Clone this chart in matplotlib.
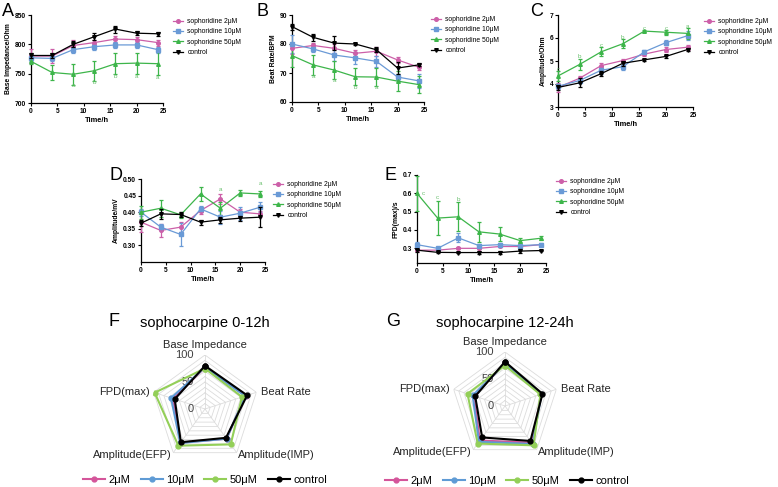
import matplotlib
matplotlib.use('Agg')
import matplotlib.pyplot as plt
from matplotlib.lines import Line2D
import numpy as np

plt.rcParams['font.family'] = ['Liberation Sans', 'DejaVu Sans']

W, H = 778, 487
fig = plt.figure(figsize=(W / 100, H / 100), dpi=100)

# ---------------- data ----------------
time = [0, 4, 8, 12, 16, 20, 24]
series_labels = ['sophoridine 2μM', 'sophoridine 10μM', 'sophoridine 50μM', 'control']

# A: Base impedance (Ohm)
bi_2 = [780, 780, 798, 803, 809, 808, 803]
bi_10 = [777, 776, 791, 796, 799, 799, 791]
bi_50 = [771, 752, 749, 755, 767, 768, 767]
bi_ctrl = [781, 781, 800, 813, 826, 819, 818]
bi_2_err = [12, 12, 10, 5, 5, 5, 5]
bi_10_err = [5, 5, 5, 5, 5, 5, 5]
bi_50_err = [5, 13, 18, 17, 18, 18, 20]
bi_ctrl_err = [5, 4, 5, 6, 6, 3, 3]

# B: Beat rate (BPM)
br_2 = [78.5, 79.5, 78.5, 76.8, 77.5, 74.5, 72.0]
br_10 = [80.0, 78.3, 76.2, 75.2, 74.0, 68.6, 67.3]
br_50 = [76.0, 72.8, 71.0, 68.7, 68.6, 67.2, 66.0]
br_ctrl = [86.0, 82.3, 80.3, 80.0, 78.0, 71.7, 72.8]
br_2_err = [2.0, 1.0, 1.5, 1.0, 1.5, 1.0, 1.0]
br_10_err = [3.0, 1.0, 2.0, 2.0, 2.0, 1.0, 2.5]
br_50_err = [4.0, 3.5, 3.0, 3.0, 3.0, 3.5, 3.0]
br_ctrl_err = [1.0, 1.3, 2.3, 0.3, 0.8, 2.0, 0.5]

# C: Amplitude (Ohm)
ai_2 = [3.85, 4.25, 4.80, 5.02, 5.30, 5.50, 5.60]
ai_10 = [3.90, 4.15, 4.60, 4.75, 5.40, 5.80, 6.10]
ai_50 = [4.35, 4.85, 5.40, 5.75, 6.30, 6.25, 6.20]
ai_ctrl = [3.85, 4.05, 4.45, 4.90, 5.05, 5.20, 5.50]
ai_2_err = [0.2, 0.1, 0.1, 0.08, 0.08, 0.1, 0.1]
ai_10_err = [0.1, 0.1, 0.15, 0.15, 0.1, 0.1, 0.2]
ai_50_err = [0.2, 0.25, 0.2, 0.2, 0.05, 0.1, 0.25]
ai_ctrl_err = [0.1, 0.2, 0.1, 0.1, 0.05, 0.05, 0.05]

# D: Amplitude (mV)
ae_2 = [0.370, 0.345, 0.355, 0.405, 0.440, 0.400, 0.395]
ae_10 = [0.400, 0.355, 0.333, 0.410, 0.385, 0.397, 0.415]
ae_50 = [0.400, 0.412, 0.392, 0.455, 0.412, 0.458, 0.455]
ae_ctrl = [0.367, 0.395, 0.393, 0.370, 0.377, 0.382, 0.385]
ae_2_err = [0.03, 0.02, 0.015, 0.01, 0.015, 0.01, 0.01]
ae_10_err = [0.01, 0.01, 0.035, 0.008, 0.02, 0.02, 0.015]
ae_50_err = [0.02, 0.025, 0.008, 0.02, 0.02, 0.01, 0.01]
ae_ctrl_err = [0.01, 0.015, 0.008, 0.008, 0.01, 0.008, 0.03]

# E: FPD(max) (s)
fpd_2 = [0.290, 0.290, 0.300, 0.300, 0.310, 0.310, 0.320]
fpd_10 = [0.320, 0.300, 0.357, 0.315, 0.320, 0.315, 0.320]
fpd_50 = [0.600, 0.465, 0.472, 0.390, 0.378, 0.342, 0.355]
fpd_ctrl = [0.290, 0.278, 0.277, 0.277, 0.277, 0.285, 0.288]
fpd_2_err = [0.005, 0.005, 0.005, 0.005, 0.005, 0.005, 0.005]
fpd_10_err = [0.012, 0.006, 0.025, 0.008, 0.008, 0.006, 0.008]
fpd_50_err = [0.095, 0.095, 0.08, 0.055, 0.04, 0.015, 0.012]
fpd_ctrl_err = [0.008, 0.005, 0.005, 0.01, 0.01, 0.01, 0.005]

# significance letters (time, value, letter)
notes_a = [(8, 730, 'a'), (12, 735, 'b'), (16, 745, 'b'), (20, 745, 'a'), (24, 743, 'a')]
notes_b = [(4, 68.7, 'a'), (8, 67.3, 'a'), (12, 64.9, 'b'), (16, 64.9, 'a')]
notes_c = [(0, 4.62, 'c'), (4, 5.18, 'b'), (8, 5.68, 'c'), (12, 6.03, 'b'), (16, 6.42, 'c'), (20, 6.42, 'c'), (24, 6.52, 'a')]
notes_d = [(16, 0.467, 'a'), (24, 0.487, 'a')]
notes_e = [(1.2, 0.60, 'c'), (4, 0.575, 'c'), (8, 0.565, 'b')]

# radar data
radar_axes = ['Base Impedance', 'Beat Rate', 'Amplitude(IMP)', 'Amplitude(EFP)', 'FPD(max)']
radar_labels = ['2μM', '10μM', '50μM', 'control']
f_2 = [77, 79, 68, 77, 62]
f_10 = [77, 78, 68, 78, 66]
f_50 = [75, 72, 81, 84, 98]
f_ctrl = [80, 82, 66, 76, 59]
g_2 = [79, 71, 84, 79, 61]
g_10 = [78, 71, 87, 82, 63]
g_50 = [75, 69, 90, 86, 73]
g_ctrl = [82, 73, 80, 72, 58]

# ---------------- styles ----------------
line_colors = ['#CC5FA8', '#6A9AD6', '#3DB54A', '#000000']
note_color = '#6CC070'
markers = ['o', 's', '^', 'v']
radar_colors = ['#D4559A', '#5F9BD5', '#93CF58', '#000000']


def px_rect(x0, y0, x1, y1):
    return [x0 / W, 1 - y1 / H, (x1 - x0) / W, (y1 - y0) / H]


def line_panel(rect, means, errs, ylim, yticks, ylabel, letter, letter_xy, leg_xy, notes, yfmt):
    ax = fig.add_axes(px_rect(*rect))
    handles = []
    for i in [0, 1, 2, 3]:
        ax.errorbar(time, means[i], yerr=errs[i], color=line_colors[i], marker=markers[i],
                    markersize=2.6, lw=0.9, elinewidth=0.9, capsize=1.6, capthick=0.9,
                    zorder=3 + (1 if i == 3 else 0), clip_on=False)
        handles.append(Line2D([], [], color=line_colors[i], marker=markers[i], markersize=2.6,
                              lw=0.9, label=series_labels[i]))
    ax.set_xlim(0, 25)
    ax.set_ylim(*ylim)
    ax.set_xticks([0, 5, 10, 15, 20, 25])
    ax.set_yticks(yticks)
    ax.set_yticklabels([yfmt.format(v) for v in yticks])
    for s in ['top', 'right']:
        ax.spines[s].set_visible(False)
    for s in ['left', 'bottom']:
        ax.spines[s].set_linewidth(0.9)
    ax.tick_params(direction='out', length=2.2, width=0.8, labelsize=4.8, pad=1.3)
    for lab in ax.get_xticklabels() + ax.get_yticklabels():
        lab.set_fontweight('bold')
    ax.set_xlabel('Time/h', fontsize=5.4, fontweight='bold', labelpad=1.5)
    ax.set_ylabel(ylabel, fontsize=4.9, fontweight='bold', labelpad=2)
    for (tx, ty, t) in notes:
        ax.text(tx, ty, t, color=note_color, fontsize=4.6, ha='center', va='center')
    fig.text(letter_xy[0] / W, 1 - letter_xy[1] / H, letter, fontsize=13, ha='center', va='center')
    fig.legend(handles=handles, loc='upper left', bbox_to_anchor=(leg_xy[0] / W, 1 - leg_xy[1] / H),
               frameon=False, fontsize=4.9, handlelength=1.4, handletextpad=0.7,
               labelspacing=0.5, borderaxespad=0, borderpad=0)
    return ax


line_panel((31, 15, 163, 103),
           [bi_2, bi_10, bi_50, bi_ctrl], [bi_2_err, bi_10_err, bi_50_err, bi_ctrl_err],
           (700, 850), [700, 750, 800, 850], 'Base Impedance/Ohm', 'A', (8, 11), (173, 18),
           notes_a, '{:.0f}')
line_panel((292, 15, 424, 102),
           [br_2, br_10, br_50, br_ctrl], [br_2_err, br_10_err, br_50_err, br_ctrl_err],
           (60, 90), [60, 70, 80, 90], 'Beat Rate/BPM', 'B', (262, 12), (431, 16),
           notes_b, '{:.0f}')
line_panel((558, 15, 693, 107),
           [ai_2, ai_10, ai_50, ai_ctrl], [ai_2_err, ai_10_err, ai_50_err, ai_ctrl_err],
           (3, 7), [3, 4, 5, 6, 7], 'Amplitude/Ohm', 'C', (537, 12), (704, 18),
           notes_c, '{:.0f}')
line_panel((141, 179, 265, 262),
           [ae_2, ae_10, ae_50, ae_ctrl], [ae_2_err, ae_10_err, ae_50_err, ae_ctrl_err],
           (0.25, 0.50), [0.30, 0.35, 0.40, 0.45, 0.50], 'Amplitude/mV', 'D', (116, 175), (273, 181),
           notes_d, '{:.2f}')
line_panel((417, 175, 546, 263),
           [fpd_2, fpd_10, fpd_50, fpd_ctrl], [fpd_2_err, fpd_10_err, fpd_50_err, fpd_ctrl_err],
           (0.22, 0.70), [0.3, 0.4, 0.5, 0.6, 0.7], 'FPD(max)/s', 'E', (391, 175), (556, 178),
           notes_e, '{:.1f}')


def radar_panel(cx, cy, R, values, title, title_xy, letter, letter_xy, leg_xy):
    ax = fig.add_axes(px_rect(cx - R, cy - R, cx + R, cy + R), projection='polar')
    ax.set_theta_zero_location('N')
    ax.set_theta_direction(-1)
    n = len(radar_axes)
    th = list(np.linspace(0, 2 * np.pi, n, endpoint=False))
    thc = th + [th[0]]
    ax.set_ylim(0, 100)
    ax.grid(False)
    ax.spines['polar'].set_visible(False)
    ax.set_xticks([])
    ax.set_yticks([])
    ax.patch.set_alpha(0)
    for r in range(10, 101, 10):
        ax.plot(thc, [r] * (n + 1), color='#dcdcdc', lw=0.6, zorder=1)
    for t in th:
        ax.plot([t, t], [0, 100], color='#dcdcdc', lw=0.6, zorder=1)
    for i in [0, 1, 2, 3]:
        v = values[i]
        ax.plot(thc, v + [v[0]], color=radar_colors[i], lw=1.5, marker='o', markersize=3.5,
                label=radar_labels[i], zorder=3 + i)
    for r in [0, 50, 100]:
        ax.annotate(str(r), xy=(0, r), xytext=(-8, 0), textcoords='offset points',
                    ha='right', va='center', fontsize=8, color='#404040')
    offs = [((0, 3.5), 'center', 'bottom'), ((3, 0), 'left', 'center'), ((1, -2), 'left', 'center'),
            ((-1, -2), 'right', 'center'), ((-3, 0), 'right', 'center')]
    for t, name, (o, ha, va) in zip(th, radar_axes, offs):
        ax.annotate(name, xy=(t, 100), xytext=o, textcoords='offset points',
                    ha=ha, va=va, fontsize=8, color='#262626')
    fig.text(title_xy[0] / W, 1 - title_xy[1] / H, title, fontsize=10.5, ha='center', va='center')
    fig.text(letter_xy[0] / W, 1 - letter_xy[1] / H, letter, fontsize=13, ha='center', va='center')
    h, l = ax.get_legend_handles_labels()
    fig.legend(h, l, loc='center', bbox_to_anchor=(leg_xy[0] / W, 1 - leg_xy[1] / H),
               ncol=4, frameon=False, fontsize=8, handlelength=2.0, handletextpad=0.3,
               columnspacing=0.9, borderaxespad=0, borderpad=0)


radar_panel(205, 409, 54, [f_2, f_10, f_50, f_ctrl], 'sophocarpine 0-12h', (205, 323),
            'F', (114, 321), (205, 480))
radar_panel(505, 406, 54, [g_2, g_10, g_50, g_ctrl], 'sophocarpine 12-24h', (505, 323),
            'G', (393, 321), (507, 481))

fig.savefig('out.png', dpi=100)
